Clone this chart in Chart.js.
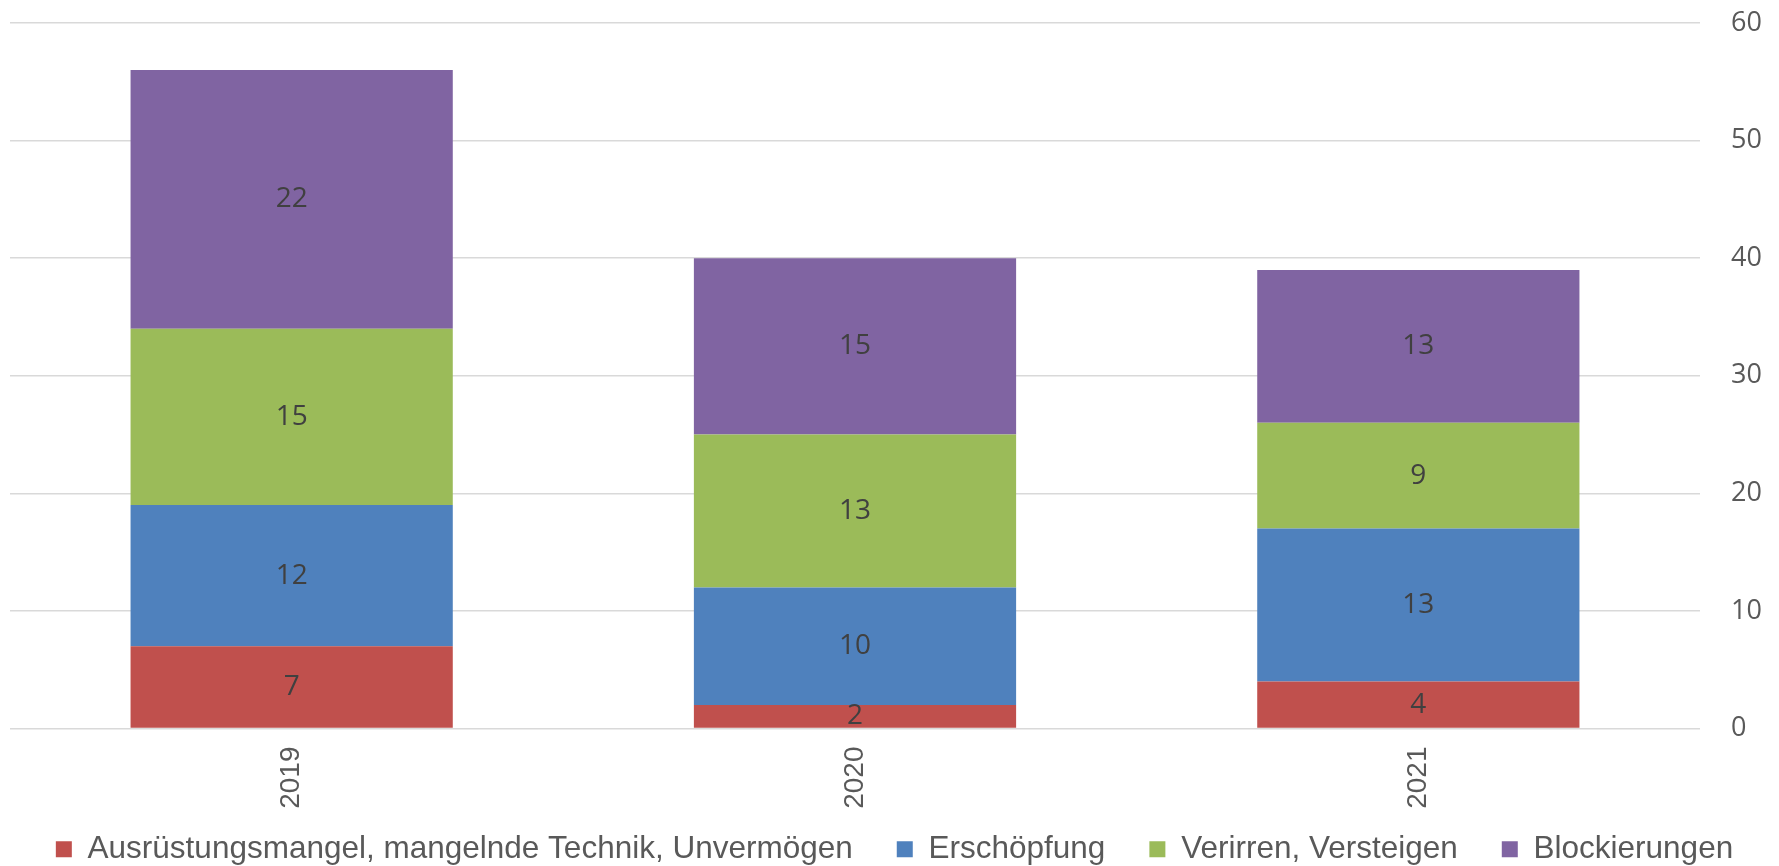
<!DOCTYPE html>
<html lang="de">
<head>
<meta charset="utf-8">
<title>Ursachen 2019-2021</title>
<script src="https://cdn.jsdelivr.net/npm/chart.js@4/dist/chart.umd.min.js"></script>
<style>
  body { margin: 0; background: #fff; }
  #box { width: 1779px; height: 866px; }
</style>
</head>
<body>
<div id="box"><canvas id="grafik"></canvas></div>
<script>
// Werte
const jahre = ['2019', '2020', '2021'];
const ausruestungsmangel = [7, 2, 4];
const erschoepfung = [12, 10, 13];
const verirren = [15, 13, 9];
const blockierungen = [22, 15, 13];

const serienNamen = [
    'Ausrüstungsmangel, mangelnde Technik, Unvermögen',
    'Erschöpfung',
    'Verirren, Versteigen',
    'Blockierungen'
];
const farben = ['#C0504D', '#4F81BD', '#9BBB59', '#8064A2'];

const achseMin = 0;
const achseMax = 60;
const achseSchritt = 10;

// Zahlen mittig in die Balkenstuecke schreiben
const etiketten = {
    id: 'etiketten',
    afterDatasetsDraw(chart) {
        const ctx = chart.ctx;
        ctx.save();
        ctx.font = '28px "Open Sans"';
        ctx.fillStyle = '#404040';
        ctx.textAlign = 'center';
        ctx.textBaseline = 'middle';
        chart.data.datasets.forEach((ds, i) => {
            chart.getDatasetMeta(i).data.forEach((balken, j) => {
                ctx.fillText(ds.data[j], balken.x, (balken.y + balken.base) / 2);
            });
        });
        ctx.restore();
    }
};

const reihen = [ausruestungsmangel, erschoepfung, verirren, blockierungen];

const dados = {
    labels: jahre,
    datasets: reihen.map((werte, i) => ({
        label: serienNamen[i],
        data: werte,
        backgroundColor: farben[i],
        borderWidth: 0,
        barPercentage: 0.572,
        categoryPercentage: 1
    }))
};

const config = {
    type: 'bar',
    data: dados,
    plugins: [etiketten],
    options: {
        responsive: true,
        maintainAspectRatio: false,
        animation: false,
        layout: { padding: { top: 23, left: 10, right: 0, bottom: -9 } },
        plugins: {
            tooltip: { enabled: false },
            legend: {
                position: 'bottom',
                labels: {
                    boxWidth: 16,
                    boxHeight: 16,
                    padding: 44,
                    color: '#595959',
                    font: { family: '"Liberation Sans", Arial', size: 31.5 }
                }
            }
        },
        scales: {
            x: {
                stacked: true,
                grid: { display: false },
                border: { display: false },
                ticks: {
                    minRotation: 90,
                    maxRotation: 90,
                    padding: 10,
                    color: '#595959',
                    font: { family: '"Liberation Sans", Arial', size: 28 }
                },
                afterFit(scale) {
                    scale.height = 61;
                    // Beschriftung nicht auf die Achsenhoehe beschneiden
                    scale._computeLabelArea = () => undefined;
                }
            },
            y: {
                stacked: true,
                position: 'right',
                min: achseMin,
                max: achseMax,
                grid: {
                    color: '#D9D9D9',
                    lineWidth: 1.5,
                    drawTicks: true,
                    tickLength: 28,
                    tickColor: 'rgba(0,0,0,0)'
                },
                border: { display: false },
                ticks: {
                    stepSize: achseSchritt,
                    padding: 3,
                    color: '#595959',
                    font: { family: '"Open Sans"', size: 27 }
                },
                afterFit(scale) { scale.width = 79; }
            }
        }
    }
};

let meuGrafico = new Chart(document.getElementById('grafik'), config);
</script>
</body>
</html>
